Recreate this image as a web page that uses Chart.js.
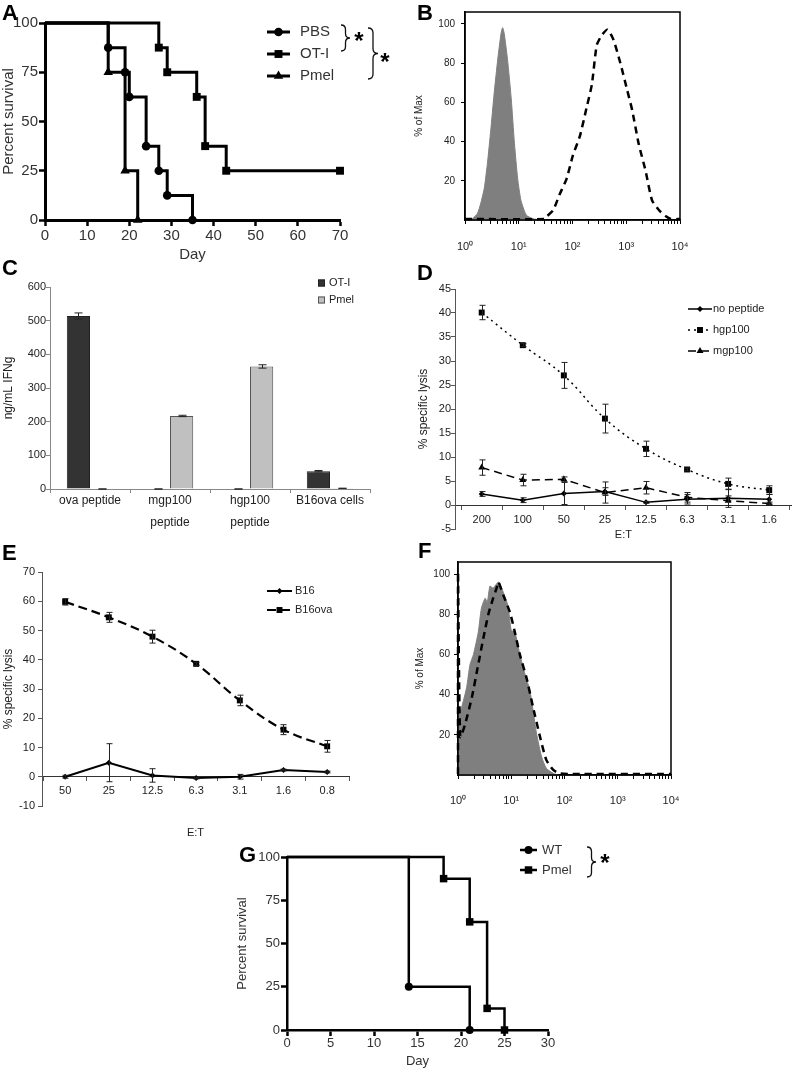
<!DOCTYPE html>
<html lang="en">
<head>
<meta charset="UTF-8">
<title>Survival, flow and lysis panels</title>
<script src="https://cdn.jsdelivr.net/npm/chart.js"></script>
<style>
    body { margin: 0; background: #fff; font-family: "Liberation Sans", Arial, sans-serif; }
    #page { position: relative; width: 796px; height: 1069px; overflow: hidden; background: #fff; }
    canvas { position: absolute; }
    .letter { position: absolute; font-weight: bold; font-size: 22px; line-height: 1; color: #000; }
</style>
</head>
<body>
<div id="page">
    <canvas id="chartA" width="400" height="270" style="left:0px;top:0px"></canvas>
    <canvas id="chartB" width="396" height="270" style="left:400px;top:0px"></canvas>
    <canvas id="chartC" width="400" height="260" style="left:0px;top:270px"></canvas>
    <canvas id="chartD" width="396" height="272" style="left:400px;top:270px"></canvas>
    <canvas id="chartE" width="400" height="315" style="left:0px;top:530px"></canvas>
    <canvas id="chartF" width="396" height="280" style="left:400px;top:530px"></canvas>
    <canvas id="chartG" width="430" height="239" style="left:200px;top:830px"></canvas>

    <div class="letter" style="left:2px;top:2px">A</div>
    <div class="letter" style="left:417px;top:2px">B</div>
    <div class="letter" style="left:2px;top:257px">C</div>
    <div class="letter" style="left:417px;top:262px">D</div>
    <div class="letter" style="left:2px;top:542px">E</div>
    <div class="letter" style="left:418px;top:540px">F</div>
    <div class="letter" style="left:239px;top:844px">G</div>
</div>

<script>
    // ---- A: survival after transfer ----
    const aDaysPBS = [0, 15, 19, 20, 24, 27, 29, 35];
    const aSurvPBS = [100, 87.5, 75, 62.5, 37.5, 25, 12.5, 0];
    const aDaysOT1 = [0, 27, 29, 36, 38, 43, 70];
    const aSurvOT1 = [100, 87.5, 75, 62.5, 37.5, 25, 25];
    const aDaysPmel = [0, 15, 19, 22];
    const aSurvPmel = [100, 75, 25, 0];

    // ---- B: histogram (fluorescence, % of max) ----
    const bGrayX = [1, 1.38, 1.7, 1.95, 2.29, 2.63, 3.02, 3.47, 4.07, 4.68, 5.01, 5.37, 6.17, 7.24, 8.32, 9.55, 11, 13.8, 18.2, 24.5];
    const bGrayY = [0.3, 0.8, 3.3, 8.2, 16.4, 29.6, 46, 64, 82, 95, 98, 95, 82, 62, 39, 21, 10, 2.5, 0.7, 0];
    const bDashX = [1, 30, 32.4, 43.7, 57.5, 77.6, 102, 138, 182, 229, 282, 347, 447, 575, 776, 1023, 1288, 1698, 2291, 3020, 4074, 5370, 6761, 10000];
    const bDashY = [0.5, 0.5, 1.6, 5, 13, 21, 33, 43, 57, 69, 89, 94, 97, 92, 80, 67, 56, 39, 25, 10, 5, 2, 0.5, 0.5];

    // ---- C: IFNg ----
    const cCategories = [['ova peptide'], ['mgp100', 'peptide'], ['hgp100', 'peptide'], ['B16ova cells']];
    const cOT1 = [514, 0, 0, 53];
    const cOT1Err = [9, 0, 0, 2];
    const cPmel = [0, 217, 364, 2];
    const cPmelErr = [0, 2, 5, 0];

    // ---- D: lysis of peptide pulsed targets ----
    const dRatios = ['200', '100', '50', '25', '12.5', '6.3', '3.1', '1.6'];
    const dNoPep = [2.3, 1.0, 2.4, 2.8, 0.55, 1.2, 1.4, 1.2];
    const dNoPepErr = [0.5, 0.5, 2.3, 0.8, 0.2, 1.0, 1.9, 1.0];
    const dHgp = [40.1, 33.3, 27.0, 18.0, 11.7, 7.4, 4.4, 3.1];
    const dHgpErr = [1.5, 0.3, 2.7, 3.0, 1.6, 0.3, 1.2, 0.9];
    const dMgp = [7.8, 5.2, 5.35, 2.6, 3.6, 1.6, 0.9, 0.3];
    const dMgpErr = [1.6, 1.2, 0.5, 2.2, 1.3, 1.0, 1.0, 0.3];

    // ---- E: lysis of B16 / B16ova ----
    const eRatios = ['50', '25', '12.5', '6.3', '3.1', '1.6', '0.8'];
    const eB16 = [0.0, 4.8, 0.45, -0.45, 0.0, 2.3, 1.6];
    const eB16Err = [0.5, 6.5, 2.3, 0.3, 0.8, 0.3, 0.3];
    const eB16ova = [59.8, 54.5, 47.9, 38.6, 26.1, 16.1, 10.4];
    const eB16ovaErr = [1.1, 1.7, 2.2, 0.5, 1.8, 1.7, 2.0];

    // ---- F: histogram ----
    const fGrayX = [1, 1.17, 1.45, 1.68, 1.95, 2.4, 2.75, 3.24, 3.55, 3.98, 4.57, 5.75, 7.08, 8.71, 10, 11.7, 14.5, 18.2, 22.4, 25.7, 29.9, 37.2, 45.7, 61.7, 75.9];
    const fGrayY = [28.7, 33.7, 43.5, 55, 60, 71, 83, 88, 86, 94, 93, 96, 91, 84, 72, 71, 60, 50, 42, 32, 20.5, 9, 3.3, 0.8, 0];
    const fDashX = [1, 1, 1.1, 1.35, 1.82, 2.4, 2.99, 3.72, 4.57, 5.31, 5.75, 7.08, 9.44, 11.7, 14.5, 19.5, 25.7, 34.7, 45.7, 61.7, 81.3, 126, 10000];
    const fDashY = [0.5, 101, 19, 25, 38.6, 55, 68, 80, 88, 93, 96, 89.5, 81, 71, 60, 48, 33.7, 19, 7.4, 2.5, 0.8, 0.5, 0.5];

    // ---- G: survival WT vs Pmel ----
    const gDaysWT = [0, 14, 21];
    const gSurvWT = [100, 25, 0];
    const gDaysPmel = [0, 18, 21, 23, 25];
    const gSurvPmel = [100, 87.5, 62.5, 12.5, 0];

    // tick labels
    const histYTicks = [20, 40, 60, 80, 100];
    const logTickLabels = ['10\u2070', '10\u00b9', '10\u00b2', '10\u00b3', '10\u2074'];
    const logTickValues = [];
    for (let e = 0; e < 4; e++) {
        for (let k = 1; k < 10; k++) logTickValues.push(k * Math.pow(10, e));
    }
    logTickValues.push(10000);

    const FONT = '"Liberation Sans", Arial, Helvetica, sans-serif';
    Chart.defaults.font.family = FONT;
    Chart.defaults.color = '#222';
    Chart.defaults.animation = false;
    Chart.defaults.events = [];
    Chart.defaults.plugins.legend.display = false;
    Chart.defaults.plugins.tooltip.enabled = false;

    function pts(xs, ys) {
        return xs.map((x, i) => ({ x: x, y: ys[i] }));
    }

    function drawMark(ctx, style, x, y, r) {
        const s = r * Math.SQRT1_2;
        ctx.beginPath();
        if (style === 'rect') {
            ctx.rect(x - s, y - s, 2 * s, 2 * s);
        } else if (style === 'rectRot') {
            ctx.moveTo(x - r, y); ctx.lineTo(x, y - r); ctx.lineTo(x + r, y); ctx.lineTo(x, y + r); ctx.closePath();
        } else if (style === 'triangle') {
            ctx.moveTo(x, y - r); ctx.lineTo(x + r * 0.866, y + r * 0.5); ctx.lineTo(x - r * 0.866, y + r * 0.5); ctx.closePath();
        } else {
            ctx.arc(x, y, r, 0, Math.PI * 2);
        }
        ctx.fill();
    }

    // legend drawn from the datasets
    function keyPlugin(o) {
        return {
            id: 'key',
            afterDraw(chart) {
                const ctx = chart.ctx;
                ctx.save();
                chart.data.datasets.forEach((ds, i) => {
                    const y = o.y + i * o.dy;
                    let textX;
                    if (o.box) {
                        ctx.fillStyle = ds.backgroundColor;
                        ctx.fillRect(o.x, y - o.box / 2, o.box, o.box);
                        ctx.strokeStyle = ds.borderColor;
                        ctx.lineWidth = 1;
                        ctx.strokeRect(o.x + 0.5, y - o.box / 2 + 0.5, o.box - 1, o.box - 1);
                        textX = o.x + o.box + o.gap;
                    } else {
                        ctx.strokeStyle = '#000';
                        ctx.lineWidth = o.lw;
                        ctx.setLineDash(ds.borderDash || []);
                        ctx.beginPath();
                        ctx.moveTo(o.x, y);
                        ctx.lineTo(o.x + o.len, y);
                        ctx.stroke();
                        ctx.setLineDash([]);
                        ctx.fillStyle = '#000';
                        drawMark(ctx, ds.pointStyle, o.x + o.len / 2, y, ds.keyR);
                        textX = o.x + o.len + o.gap;
                    }
                    ctx.fillStyle = o.color || '#222';
                    ctx.font = o.size + 'px ' + FONT;
                    ctx.textAlign = 'left';
                    ctx.textBaseline = 'middle';
                    ctx.fillText(ds.label, textX, y);
                });
                ctx.restore();
            }
        };
    }

    function errorBars(cap) {
        return {
            id: 'errbars',
            afterDatasetsDraw(chart) {
                const ctx = chart.ctx;
                const ys = chart.scales.y;
                ctx.save();
                ctx.strokeStyle = '#222';
                ctx.lineWidth = 1;
                chart.data.datasets.forEach((ds, i) => {
                    if (!ds.errors) return;
                    chart.getDatasetMeta(i).data.forEach((el, j) => {
                        const d = ds.data[j];
                        const v = typeof d === 'object' ? d.y : d;
                        const err = ds.errors[j];
                        const top = ys.getPixelForValue(v + err);
                        const bot = ys.getPixelForValue(v - err);
                        const x = Math.round(el.x) + 0.5;
                        ctx.beginPath();
                        ctx.moveTo(x, top); ctx.lineTo(x, bot);
                        ctx.moveTo(x - cap, top); ctx.lineTo(x + cap, top);
                        ctx.moveTo(x - cap, bot); ctx.lineTo(x + cap, bot);
                        ctx.stroke();
                    });
                });
                ctx.restore();
            }
        };
    }

    // brackets with significance stars
    function braces(list) {
        return {
            id: 'braces',
            afterDraw(chart) {
                const ctx = chart.ctx;
                ctx.save();
                ctx.strokeStyle = '#111';
                ctx.lineWidth = 1.3;
                list.forEach(b => {
                    const m = (b.y1 + b.y2) / 2, r = b.w / 2;
                    ctx.beginPath();
                    ctx.moveTo(b.x, b.y1);
                    ctx.quadraticCurveTo(b.x + r, b.y1, b.x + r, b.y1 + r);
                    ctx.lineTo(b.x + r, m - r);
                    ctx.quadraticCurveTo(b.x + r, m, b.x + b.w, m);
                    ctx.quadraticCurveTo(b.x + r, m, b.x + r, m + r);
                    ctx.lineTo(b.x + r, b.y2 - r);
                    ctx.quadraticCurveTo(b.x + r, b.y2, b.x, b.y2);
                    ctx.stroke();
                    ctx.fillStyle = '#000';
                    ctx.font = 'bold 24px ' + FONT;
                    ctx.textAlign = 'center';
                    ctx.textBaseline = 'alphabetic';
                    ctx.fillText('*', b.sx, b.sy);
                });
                ctx.restore();
            }
        };
    }

    function framePlugin(lw) {
        return {
            id: 'frame',
            afterDraw(chart) {
                const a = chart.chartArea, ctx = chart.ctx;
                ctx.save();
                ctx.strokeStyle = '#000';
                ctx.lineWidth = lw;
                ctx.strokeRect(a.left, a.top, a.right - a.left, a.bottom - a.top);
                ctx.restore();
            }
        };
    }

    function kmSet(label, days, surv, style, r, lw) {
        return {
            label: label,
            data: pts(days, surv),
            stepped: true,
            borderColor: '#000',
            borderWidth: lw,
            pointStyle: style,
            pointRadius: c => (c.dataIndex === 0 ? 0 : r),
            pointBackgroundColor: '#000',
            pointBorderWidth: 0,
            clip: false,
            keyR: r
        };
    }

    function kmScales(o) {
        return {
            x: {
                type: 'linear', min: 0, max: o.xmax,
                afterFit: s => { s.height = o.xh; },
                ticks: { stepSize: o.xstep, font: { size: o.fs }, color: '#333', padding: o.xpad },
                grid: { drawOnChartArea: false, tickLength: 6, tickWidth: 2.5, tickColor: '#000' },
                border: { color: '#000', width: o.aw },
                title: { display: true, text: 'Day', color: '#333', font: { size: o.ts, lineHeight: o.tlh }, padding: { top: 0, bottom: o.titlePad } }
            },
            y: {
                min: 0, max: 100,
                afterFit: s => { s.width = o.yw; },
                ticks: { stepSize: 25, font: { size: o.fs }, color: '#333', padding: 1 },
                grid: { drawOnChartArea: false, tickLength: 6, tickWidth: 2.5, tickColor: '#000' },
                border: { color: '#000', width: o.aw },
                title: { display: true, text: 'Percent survival', color: '#333', font: { size: o.ts }, padding: { top: o.ytPad, bottom: 0 } }
            }
        };
    }

    function logAxis(h, pad) {
        return {
            type: 'logarithmic', min: 1, max: 10000,
            afterFit: s => { s.height = h; },
            afterBuildTicks: s => { s.ticks = logTickValues.map(v => ({ value: v })); },
            ticks: {
                autoSkip: false, maxRotation: 0, padding: pad, font: { size: 11 }, color: '#222',
                callback: v => {
                    const e = Math.round(Math.log10(v));
                    return Math.abs(Math.log10(v) - e) < 1e-9 ? logTickLabels[e] : '';
                }
            },
            grid: { drawOnChartArea: false, tickLength: 4, tickColor: '#000' },
            border: { color: '#000', width: 1.5 }
        };
    }

    function histY(w, pad, tpad) {
        return {
            min: 0, max: 106,
            afterFit: s => { s.width = w; },
            afterBuildTicks: s => { s.ticks = histYTicks.map(v => ({ value: v })); },
            ticks: { font: { size: 10 }, padding: pad, color: '#222' },
            grid: { drawOnChartArea: false, tickLength: 4, tickColor: '#000' },
            border: { color: '#000', width: 1.5 },
            title: { display: true, text: '% of Max', font: { size: 10 }, color: '#222', padding: { top: tpad, bottom: 0 } }
        };
    }

    function histSets(dx, dy, gx, gy) {
        return [
            { label: 'dashed', data: pts(dx, dy), borderColor: '#000', borderWidth: 2.5, borderDash: [7, 5], pointRadius: 0, fill: false, tension: 0.2, clip: 3 },
            { label: 'gray', data: pts(gx, gy), borderColor: '#7f7f7f', backgroundColor: '#7f7f7f', borderWidth: 1, pointRadius: 0, fill: 'origin', tension: 0.2 }
        ];
    }

    function lysisScales(o) {
        return {
            x: {
                type: 'linear', position: { y: 0 }, min: o.xmin, max: o.xmax,
                afterFit: s => { s.height = o.xh; },
                afterBuildTicks: s => { s.ticks = o.labels.map((_, i) => ({ value: i })); },
                ticks: { callback: v => o.labels[v], font: { size: 11 }, padding: 4, autoSkip: false, maxRotation: 0, color: '#222' },
                grid: { offset: true, drawOnChartArea: false, tickLength: 4, tickColor: '#555' },
                border: { color: '#333', width: 1 },
                title: { display: true, text: 'E:T', font: { size: 11 }, color: '#222', padding: { top: 0, bottom: 4 } }
            },
            y: {
                min: o.ymin, max: o.ymax,
                afterFit: s => { s.width = o.yw; },
                ticks: { stepSize: o.ystep, font: { size: 11 }, padding: o.ypad, color: '#222' },
                grid: { drawOnChartArea: false, tickLength: 4, tickColor: '#555' },
                border: { color: '#555', width: 1 },
                title: { display: true, text: '% specific lysis', font: { size: 12 }, color: '#222', padding: { top: o.ytPad, bottom: 0 } }
            }
        };
    }

    function idx(vals) {
        return vals.map((v, i) => ({ x: i, y: v }));
    }

    // A
    new Chart(document.getElementById('chartA'), {
        type: 'line',
        data: {
            datasets: [
                kmSet('PBS', aDaysPBS, aSurvPBS, 'circle', 4.3, 3),
                kmSet('OT-I', aDaysOT1, aSurvOT1, 'rect', 5.6, 3),
                kmSet('Pmel', aDaysPmel, aSurvPmel, 'triangle', 5.5, 3)
            ]
        },
        options: {
            responsive: false,
            layout: { padding: { left: 0, top: 23, right: 60, bottom: 0 } },
            scales: kmScales({ xmax: 70, xstep: 10, xh: 50, yw: 45, fs: 15, ts: 15, tlh: 1.2, aw: 3, xpad: 1, titlePad: 6, ytPad: 0 })
        },
        plugins: [
            keyPlugin({ x: 267, y: 32, dy: 22, len: 23, gap: 10, lw: 3, size: 15, color: '#333' }),
            braces([
                { x: 341, y1: 25, y2: 51, w: 9, sx: 359, sy: 49 },
                { x: 368, y1: 28, y2: 79, w: 10, sx: 385, sy: 70 }
            ])
        ]
    });

    // B
    new Chart(document.getElementById('chartB'), {
        type: 'line',
        data: { datasets: histSets(bDashX, bDashY, bGrayX, bGrayY) },
        options: {
            responsive: false,
            layout: { padding: { left: 0, top: 5, right: 116, bottom: 0 } },
            scales: { x: logAxis(50, 16), y: histY(65, 6, 13) }
        },
        plugins: [framePlugin(1.5)]
    });

    // C
    new Chart(document.getElementById('chartC'), {
        type: 'bar',
        data: {
            labels: cCategories,
            datasets: [
                { label: 'OT-I', data: cOT1, errors: cOT1Err, backgroundColor: '#333333', borderColor: '#222', borderWidth: 1 },
                { label: 'Pmel', data: cPmel, errors: cPmelErr, backgroundColor: '#c0c0c0', borderColor: '#555', borderWidth: 1 }
            ]
        },
        options: {
            responsive: false,
            datasets: { bar: { categoryPercentage: 0.58, barPercentage: 1 } },
            layout: { padding: { left: 0, top: 17, right: 30, bottom: 0 } },
            scales: {
                x: {
                    afterFit: s => { s.height = 41; },
                    ticks: { font: { size: 12, lineHeight: 1.8 }, padding: -3, color: '#222', maxRotation: 0, autoSkip: false },
                    grid: { offset: true, drawOnChartArea: false, tickLength: 4, tickColor: '#888' },
                    border: { color: '#888' }
                },
                y: {
                    min: 0, max: 600,
                    afterFit: s => { s.width = 50; },
                    ticks: { stepSize: 100, font: { size: 11 }, padding: 0, color: '#222' },
                    grid: { drawOnChartArea: false, tickLength: 4, tickColor: '#888' },
                    border: { color: '#888' },
                    title: { display: true, text: 'ng/mL IFNg', font: { size: 12 }, color: '#222', padding: { top: 1, bottom: 0 } }
                }
            }
        },
        plugins: [errorBars(4), keyPlugin({ x: 318, y: 13, dy: 17, box: 7, gap: 4, size: 11 })]
    });

    // D
    new Chart(document.getElementById('chartD'), {
        type: 'line',
        data: {
            datasets: [
                { label: 'no peptide', data: idx(dNoPep), errors: dNoPepErr, borderColor: '#000', borderWidth: 1.5, pointStyle: 'rectRot', pointRadius: 3, keyR: 3, pointBackgroundColor: '#000', pointBorderWidth: 0, tension: 0, clip: false },
                { label: 'hgp100', data: idx(dHgp), errors: dHgpErr, borderColor: '#000', borderWidth: 1.5, borderDash: [2, 4], pointStyle: 'rect', pointRadius: 4.2, keyR: 4.2, pointBackgroundColor: '#000', pointBorderWidth: 0, tension: 0.4, clip: false },
                { label: 'mgp100', data: idx(dMgp), errors: dMgpErr, borderColor: '#000', borderWidth: 1.5, borderDash: [8, 5], pointStyle: 'triangle', pointRadius: 4, keyR: 4, pointBackgroundColor: '#000', pointBorderWidth: 0, tension: 0, clip: false }
            ]
        },
        options: {
            responsive: false,
            layout: { padding: { left: 0, top: 19, right: 3, bottom: 13 } },
            scales: lysisScales({ labels: dRatios, xmin: -0.65, xmax: 7.55, xh: 40.6, ymin: -5, ymax: 45, ystep: 5, yw: 55, ypad: 0, ytPad: 16 })
        },
        plugins: [errorBars(3), keyPlugin({ x: 288, y: 39, dy: 21, len: 24, gap: 1, lw: 1.5, size: 11 })]
    });

    // E
    new Chart(document.getElementById('chartE'), {
        type: 'line',
        data: {
            datasets: [
                { label: 'B16', data: idx(eB16), errors: eB16Err, borderColor: '#000', borderWidth: 2, pointStyle: 'rectRot', pointRadius: 3, keyR: 3, pointBackgroundColor: '#000', pointBorderWidth: 0, tension: 0, clip: false },
                { label: 'B16ova', data: idx(eB16ova), errors: eB16ovaErr, borderColor: '#000', borderWidth: 2.2, borderDash: [9, 5], pointStyle: 'rect', pointRadius: 4.2, keyR: 4.2, pointBackgroundColor: '#000', pointBorderWidth: 0, tension: 0.4, clip: false }
            ]
        },
        options: {
            responsive: false,
            layout: { padding: { left: 0, top: 42, right: 51, bottom: 39 } },
            scales: lysisScales({ labels: eRatios, xmin: -0.53, xmax: 6.5, xh: 66.6, ymin: -10, ymax: 70, ystep: 10, yw: 42, ypad: 3, ytPad: 1 })
        },
        plugins: [errorBars(3), keyPlugin({ x: 267, y: 61, dy: 19, len: 25, gap: 3, lw: 2, size: 11 })]
    });

    // F
    new Chart(document.getElementById('chartF'), {
        type: 'line',
        data: { datasets: histSets(fDashX, fDashY, fGrayX, fGrayY) },
        options: {
            responsive: false,
            layout: { padding: { left: 0, top: 32, right: 125, bottom: 0 } },
            scales: { x: logAxis(35, 15), y: histY(58, 4, 14) }
        },
        plugins: [framePlugin(1.5)]
    });

    // G
    new Chart(document.getElementById('chartG'), {
        type: 'line',
        data: {
            datasets: [
                kmSet('WT', gDaysWT, gSurvWT, 'circle', 4, 2.5),
                kmSet('Pmel', gDaysPmel, gSurvPmel, 'rect', 5.3, 2.5)
            ]
        },
        options: {
            responsive: false,
            layout: { padding: { left: 0, top: 27, right: 82, bottom: 0 } },
            scales: kmScales({ xmax: 30, xstep: 5, xh: 39, yw: 87, fs: 13, ts: 13, tlh: 1.2, aw: 2.5, xpad: 0, titlePad: 0, ytPad: 35 })
        },
        plugins: [
            keyPlugin({ x: 320, y: 20, dy: 20, len: 17, gap: 5, lw: 2.5, size: 13, color: '#333' }),
            braces([{ x: 387, y1: 17, y2: 47, w: 9, sx: 405, sy: 41 }])
        ]
    });
</script>
</body>
</html>
